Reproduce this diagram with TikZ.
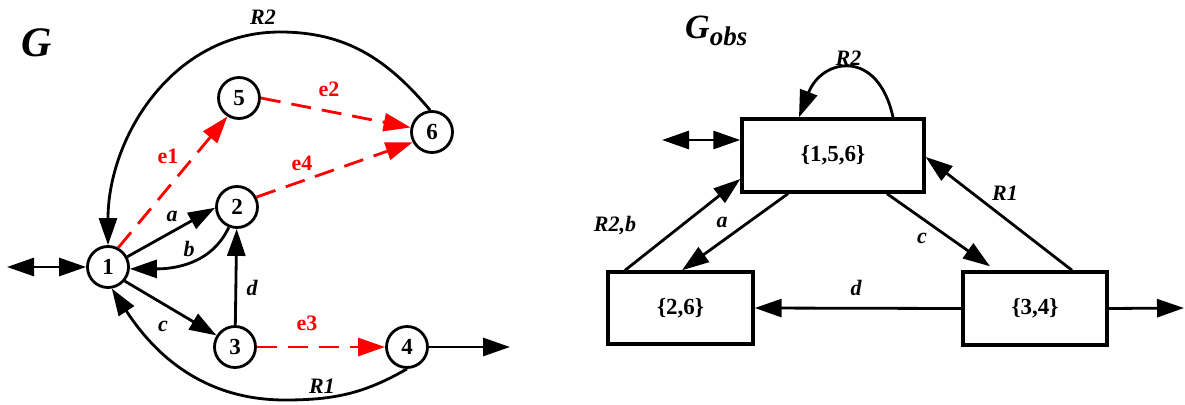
\documentclass[tikz,border=0pt]{standalone}
\usepackage{fontspec}
\setmainfont{Liberation Serif}
\usetikzlibrary{arrows.meta}

\begin{document}
\begin{tikzpicture}[x=1pt,y=-1pt,
  state/.style={circle,draw,line width=2.8pt,minimum size=41pt,inner sep=0pt,
    font=\fontsize{23}{23}\selectfont\bfseries},
  setbox/.style={rectangle,draw,line width=3.4pt,inner sep=0pt,
    font=\fontsize{23}{23}\selectfont\bfseries},
  tip/.tip={Triangle[length=27pt,width=18pt]},
  trans/.style={line width=2.8pt,-tip},
  both/.style={line width=2.8pt,tip-tip},
  hidden/.style={trans,red,dash pattern=on 20pt off 11pt},
  lbl/.style={font=\fontsize{22}{22}\selectfont\bfseries\itshape,inner sep=0pt},
  rlbl/.style={font=\fontsize{22}{22}\selectfont\bfseries,text=red,inner sep=0pt},
]
\useasboundingbox (0,0) rectangle (1185,404);

% ---------------- automaton G ----------------
\node[font=\fontsize{42}{42}\selectfont\bfseries\itshape] (gtitle) at (37,43) {G};

\node[state] (n1) at (108,267) {1};
\node[state] (n2) at (237,207) {2};
\node[state] (n3) at (235,347) {3};
\node[state] (n4) at (407,347) {4};
\node[state] (n5) at (239,98) {5};
\node[state] (n6) at (432,132) {6};

\coordinate (gin) at (7,267);
\coordinate (gout) at (510,347);
\coordinate (r2top) at (280,32);
\coordinate (r1bot) at (285,400);

\draw[both] (gin) -- (n1);
\draw[trans] (n4) -- (gout);

\draw[trans] (n1.28) -- (n2.182);
\draw[trans] (n2.-112) to[out=-115,in=0] (n1.-5);
\draw[trans] (n1.-40) -- (n3.148);
\draw[trans] (n3) -- (n2);
\draw[trans] (n6.95) to[out=130,in=0] (r2top) to[out=180,in=90] (n1);
\draw[trans] (n4.-90) to[out=210,in=0] (r1bot) to[out=180,in=-57] (n1.-80);

\draw[hidden] (n1.62) -- (n5.-122);
\draw[hidden] (n5.0) -- (n6.168);
\draw[hidden] (n2.27) -- (n6.-152);
\draw[hidden] (n3) -- (n4);

\node[lbl] (la) at (172,216) {a};
\node[lbl] (lb) at (189,249) {b};
\node[lbl] (lc) at (163,326) {c};
\node[lbl] (ld) at (252,288) {d};
\node[lbl] (lr2) at (263,17) {R2};
\node[lbl] (lr1) at (322,386) {R1};
\node[rlbl] (le1) at (168,156) {e1};
\node[rlbl] (le2) at (329,89) {e2};
\node[rlbl] (le3) at (307,323) {e3};
\node[rlbl] (le4) at (302,163) {e4};

% ---------------- observer G_obs ----------------
\node[font=\fontsize{34}{34}\selectfont\bfseries\itshape,inner sep=0pt,anchor=base west] (otitle) at (685,39)
  {G\raisebox{-7pt}{\fontsize{27}{27}\selectfont obs}};

\node[setbox,minimum width=182pt,minimum height=73pt] (b1) at (833,155.5) {\{1,5,6\}};
\node[setbox,minimum width=145pt,minimum height=72pt] (b2) at (680.5,308) {\{2,6\}};
\node[setbox,minimum width=144pt,minimum height=73pt] (b3) at (1035,308.5) {\{3,4\}};

\coordinate (oin) at (662,140);
\coordinate (oout) at (1184,308);

\draw[both] (oin) -- ([yshift=15.5pt]b1.west);
\draw[trans] ([xshift=60pt]b1.north) .. controls (878,48) and (822,58) .. ([xshift=-34pt]b1.north);
\draw[trans] ([xshift=-55.5pt]b2.north) -- ([yshift=-23.5pt]b1.west);
\draw[trans] ([xshift=-45pt]b1.south) -- ([xshift=1.5pt]b2.north);
\draw[trans] ([xshift=54pt]b1.south) -- ([xshift=-45pt,yshift=4pt]b3.north);
\draw[trans] ([xshift=37pt]b3.north) -- ([yshift=-1.5pt]b1.east);
\draw[trans] (b3.west) -- (b2.east);
\draw[trans] (b3.east) -- (oout);

\node[lbl] (lor2) at (848.5,58) {R2};
\node[lbl] (lorb) at (615,226) {R2,b};
\node[lbl] (loa) at (722,222) {a};
\node[lbl] (loc) at (922,238) {c};
\node[lbl] (lor1) at (1005,193) {R1};
\node[lbl] (lod) at (856,288) {d};
\end{tikzpicture}
\end{document}
